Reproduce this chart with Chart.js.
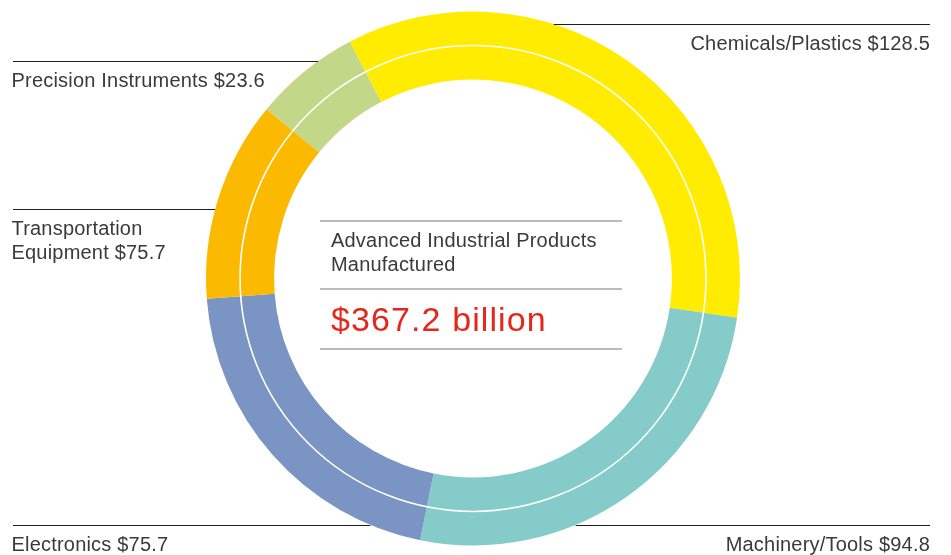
<!DOCTYPE html>
<html>
<head>
<meta charset="utf-8">
<script src="https://cdn.jsdelivr.net/npm/chart.js@4.4.1/dist/chart.umd.min.js"></script>
<style>
  html, body { margin: 0; padding: 0; background: #fff; }
  #wrap { position: relative; width: 951px; height: 555px; overflow: hidden; }
  #ringChart { position: absolute; left: 0; top: 0; }
  .lbl {
    position: absolute;
    font-family: "Liberation Sans", Arial, sans-serif;
    font-size: 20px;
    line-height: 24px;
    letter-spacing: 0.2px;
    color: #3a3a3a;
    white-space: nowrap;
  }
  .right { text-align: right; }
  #total {
    position: absolute;
    left: 331px;
    top: 299px;
    font-family: "Liberation Sans", Arial, sans-serif;
    font-size: 34px;
    line-height: 40px;
    letter-spacing: 1.1px;
    color: #e5261b;
    white-space: nowrap;
  }
</style>
</head>
<body>
<div id="wrap">
  <canvas id="ringChart" width="951" height="555"></canvas>
  <div id="labels"></div>
  <div class="lbl" style="left:331px; top:228px;">Advanced Industrial Products<br>Manufactured</div>
  <div id="total"></div>
</div>

<script>
// data
const categories = ["Chemicals/Plastics", "Machinery/Tools", "Electronics", "Transportation Equipment", "Precision Instruments"];
// arc sizes as drawn (they add up to the $367.2 total in the middle)
const sliceValues = [128.5, 94.8, 75.7, 44.6, 23.6];
// values as printed next to each label
const printedValues = [128.5, 94.8, 75.7, 75.7, 23.6];
const totalText = "$367.2 billion";
const sliceColors = ["#FFEC00", "#85CBCA", "#7A94C4", "#FBB900", "#C2D888"];

// where each leader line sits: height and which side of the ring
const leaderY = [24, 525, 525, 209, 61];
const leaderSide = ["right", "right", "left", "left", "left"];

// label text (two lines for transportation like in the source)
const labelHtml = [
  "Chemicals/Plastics $" + printedValues[0],
  "Machinery/Tools $" + printedValues[1],
  "Electronics $" + printedValues[2],
  "Transportation<br>Equipment $" + printedValues[3],
  "Precision Instruments $" + printedValues[4]
];

// put labels under their lines
const labelsBox = document.getElementById("labels");
labelHtml.forEach((txt, i) => {
  const d = document.createElement("div");
  d.className = "lbl" + (leaderSide[i] === "right" ? " right" : "");
  d.innerHTML = txt;
  d.style.top = (leaderY[i] + 7) + "px";
  if (leaderSide[i] === "right") {
    d.style.right = "21px";
  } else {
    d.style.left = "11.5px";
  }
  labelsBox.appendChild(d);
});
document.getElementById("total").textContent = totalText;

// plugin: white separator circle + leader lines + rules in the middle
const decorPlugin = {
  id: "decor",
  afterDatasetsDraw(chart) {
    const ctx = chart.ctx;
    const outer = chart.getDatasetMeta(0).data[0];
    const cx = outer.x, cy = outer.y;
    const R = outer.outerRadius;

    // thin white ring between the two rings
    ctx.save();
    ctx.strokeStyle = "#ffffff";
    ctx.lineWidth = 1.6;
    ctx.beginPath();
    ctx.arc(cx, cy, outer.innerRadius, 0, Math.PI * 2);
    ctx.stroke();

    // leader lines stop at the outer edge of the ring
    ctx.strokeStyle = "#1e1e1e";
    ctx.lineWidth = 1;
    leaderY.forEach((y, i) => {
      const dy = y - cy;
      const dx = Math.sqrt(Math.max(R * R - dy * dy, 0));
      ctx.beginPath();
      if (leaderSide[i] === "right") {
        ctx.moveTo(cx + dx, y + 0.5);
        ctx.lineTo(930, y + 0.5);
      } else {
        ctx.moveTo(13, y + 0.5);
        ctx.lineTo(cx - dx, y + 0.5);
      }
      ctx.stroke();
    });

    // grey rules around the centre text
    ctx.strokeStyle = "#a3a3a3";
    ctx.lineWidth = 1.5;
    [221, 289, 349].forEach(y => {
      ctx.beginPath();
      ctx.moveTo(320, y);
      ctx.lineTo(622, y);
      ctx.stroke();
    });
    ctx.restore();
  }
};

const ctx = document.getElementById("ringChart").getContext("2d");
const ringChart = new Chart(ctx, {
  type: "doughnut",
  data: {
    labels: categories,
    datasets: [
      { data: sliceValues, backgroundColor: sliceColors, borderWidth: 0 },
      { data: sliceValues, backgroundColor: sliceColors, borderWidth: 0 }
    ]
  },
  options: {
    responsive: false,
    animation: false,
    devicePixelRatio: 1,
    events: [],
    rotation: -27.5,
    cutout: "74.5%",
    layout: { padding: { top: 11.5, bottom: 9.5, left: 0, right: 5 } },
    plugins: {
      legend: { display: false },
      tooltip: { enabled: false }
    }
  },
  plugins: [decorPlugin]
});
</script>
</body>
</html>
